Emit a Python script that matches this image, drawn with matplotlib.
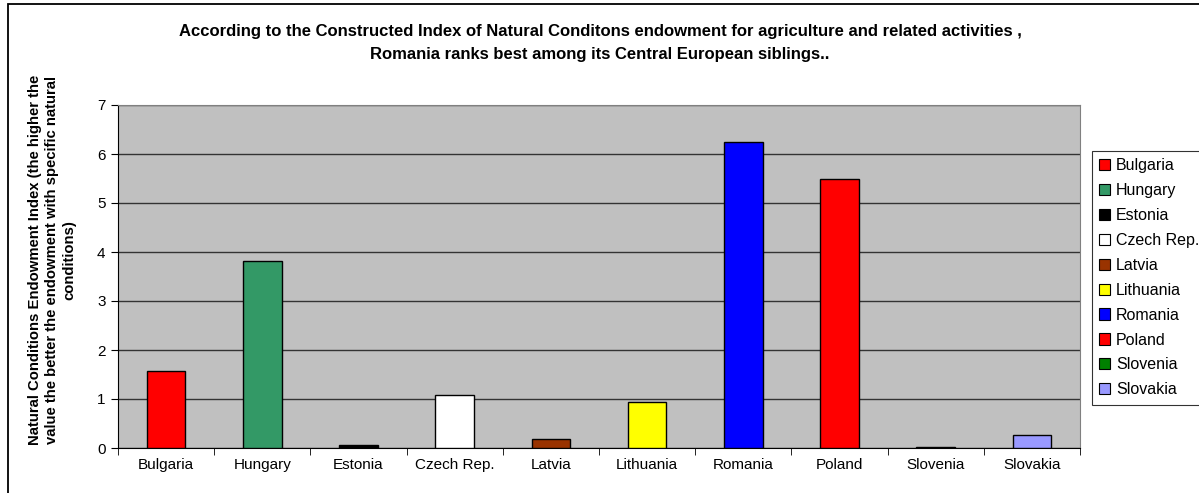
import matplotlib
matplotlib.use("Agg")
import matplotlib.pyplot as plt
from matplotlib.patches import Patch, Rectangle
import numpy as np

plt.rcParams['font.family'] = ['Liberation Sans', 'DejaVu Sans']

countries = ["Bulgaria", "Hungary", "Estonia", "Czech Rep.", "Latvia",
             "Lithuania", "Romania", "Poland", "Slovenia", "Slovakia"]
values = [1.57, 3.82, 0.07, 1.08, 0.18, 0.94, 6.24, 5.49, 0.02, 0.27]
colors = ["#FF0000", "#339966", "#000000", "#FFFFFF", "#993300",
          "#FFFF00", "#0000FF", "#FF0000", "#008000", "#9999FF"]
yticks = [0, 1, 2, 3, 4, 5, 6, 7]

title = ("According to the Constructed Index of Natural Conditons endowment for agriculture and related activities ,\n"
         "Romania ranks best among its Central European siblings..")
ylabel = ("Natural Conditions Endowment Index (the higher the\n"
          "value the better the endowment with specific natural\n"
          "conditions)")

fig = plt.figure(figsize=(11.99, 4.93), dpi=100)
fig.patch.set_facecolor("white")
# figure border (extends past right/bottom edges as in the reference crop)
fig.add_artist(Rectangle((8/1199, -0.05), 1.0, 1.05 - 4/493, transform=fig.transFigure,
                         fill=False, edgecolor="black", linewidth=1.3))

ax = fig.add_axes([118/1199, (493-448)/493, (1080-118)/1199, (448-105)/493])
ax.set_facecolor("#C0C0C0")
x = np.arange(len(countries))
ax.bar(x, values, width=0.4, color=colors, edgecolor="black", linewidth=1.0, zorder=3)
ax.set_xlim(-0.5, len(countries) - 0.5)
ax.set_ylim(0, 7)
ax.set_yticks(yticks)
ax.set_yticklabels([str(v) for v in yticks], fontsize=11)
ax.yaxis.grid(True, color="#333333", linewidth=1.0, zorder=1)
ax.set_axisbelow(True)
ax.set_xticks(x)
ax.set_xticklabels(countries, fontsize=11)
ax.tick_params(axis='x', which='major', length=0, pad=7)
ax.set_xticks(np.arange(-0.5, len(countries), 1), minor=True)
ax.tick_params(axis='x', which='minor', length=5, direction='out', color='black')
ax.tick_params(axis='y', length=5, direction='out', color='black', pad=4)
for s in ['top', 'right']:
    ax.spines[s].set_color('#808080')
for s in ['left', 'bottom']:
    ax.spines[s].set_color('black')

fig.text(600/1199, 1 - 43/493, title, ha='center', va='center', fontsize=12,
         fontweight='bold', linespacing=1.6)
fig.text(52/1199, 1 - 260/493, ylabel, ha='center', va='center', rotation=90,
         fontsize=10.7, fontweight='bold', linespacing=1.3)

handles = [Patch(facecolor=c, edgecolor='black', linewidth=0.8) for c in colors]
leg = fig.legend(handles, countries, loc='upper left',
                 bbox_to_anchor=(1092/1199, 1 - 151/493), fontsize=11.5,
                 frameon=True, fancybox=False, handlelength=0.7, handleheight=0.7,
                 handletextpad=0.35, labelspacing=0.62, borderpad=0.45, borderaxespad=0)
leg.get_frame().set_edgecolor('black')
leg.get_frame().set_linewidth(0.8)

fig.savefig("out.png", dpi=100)
